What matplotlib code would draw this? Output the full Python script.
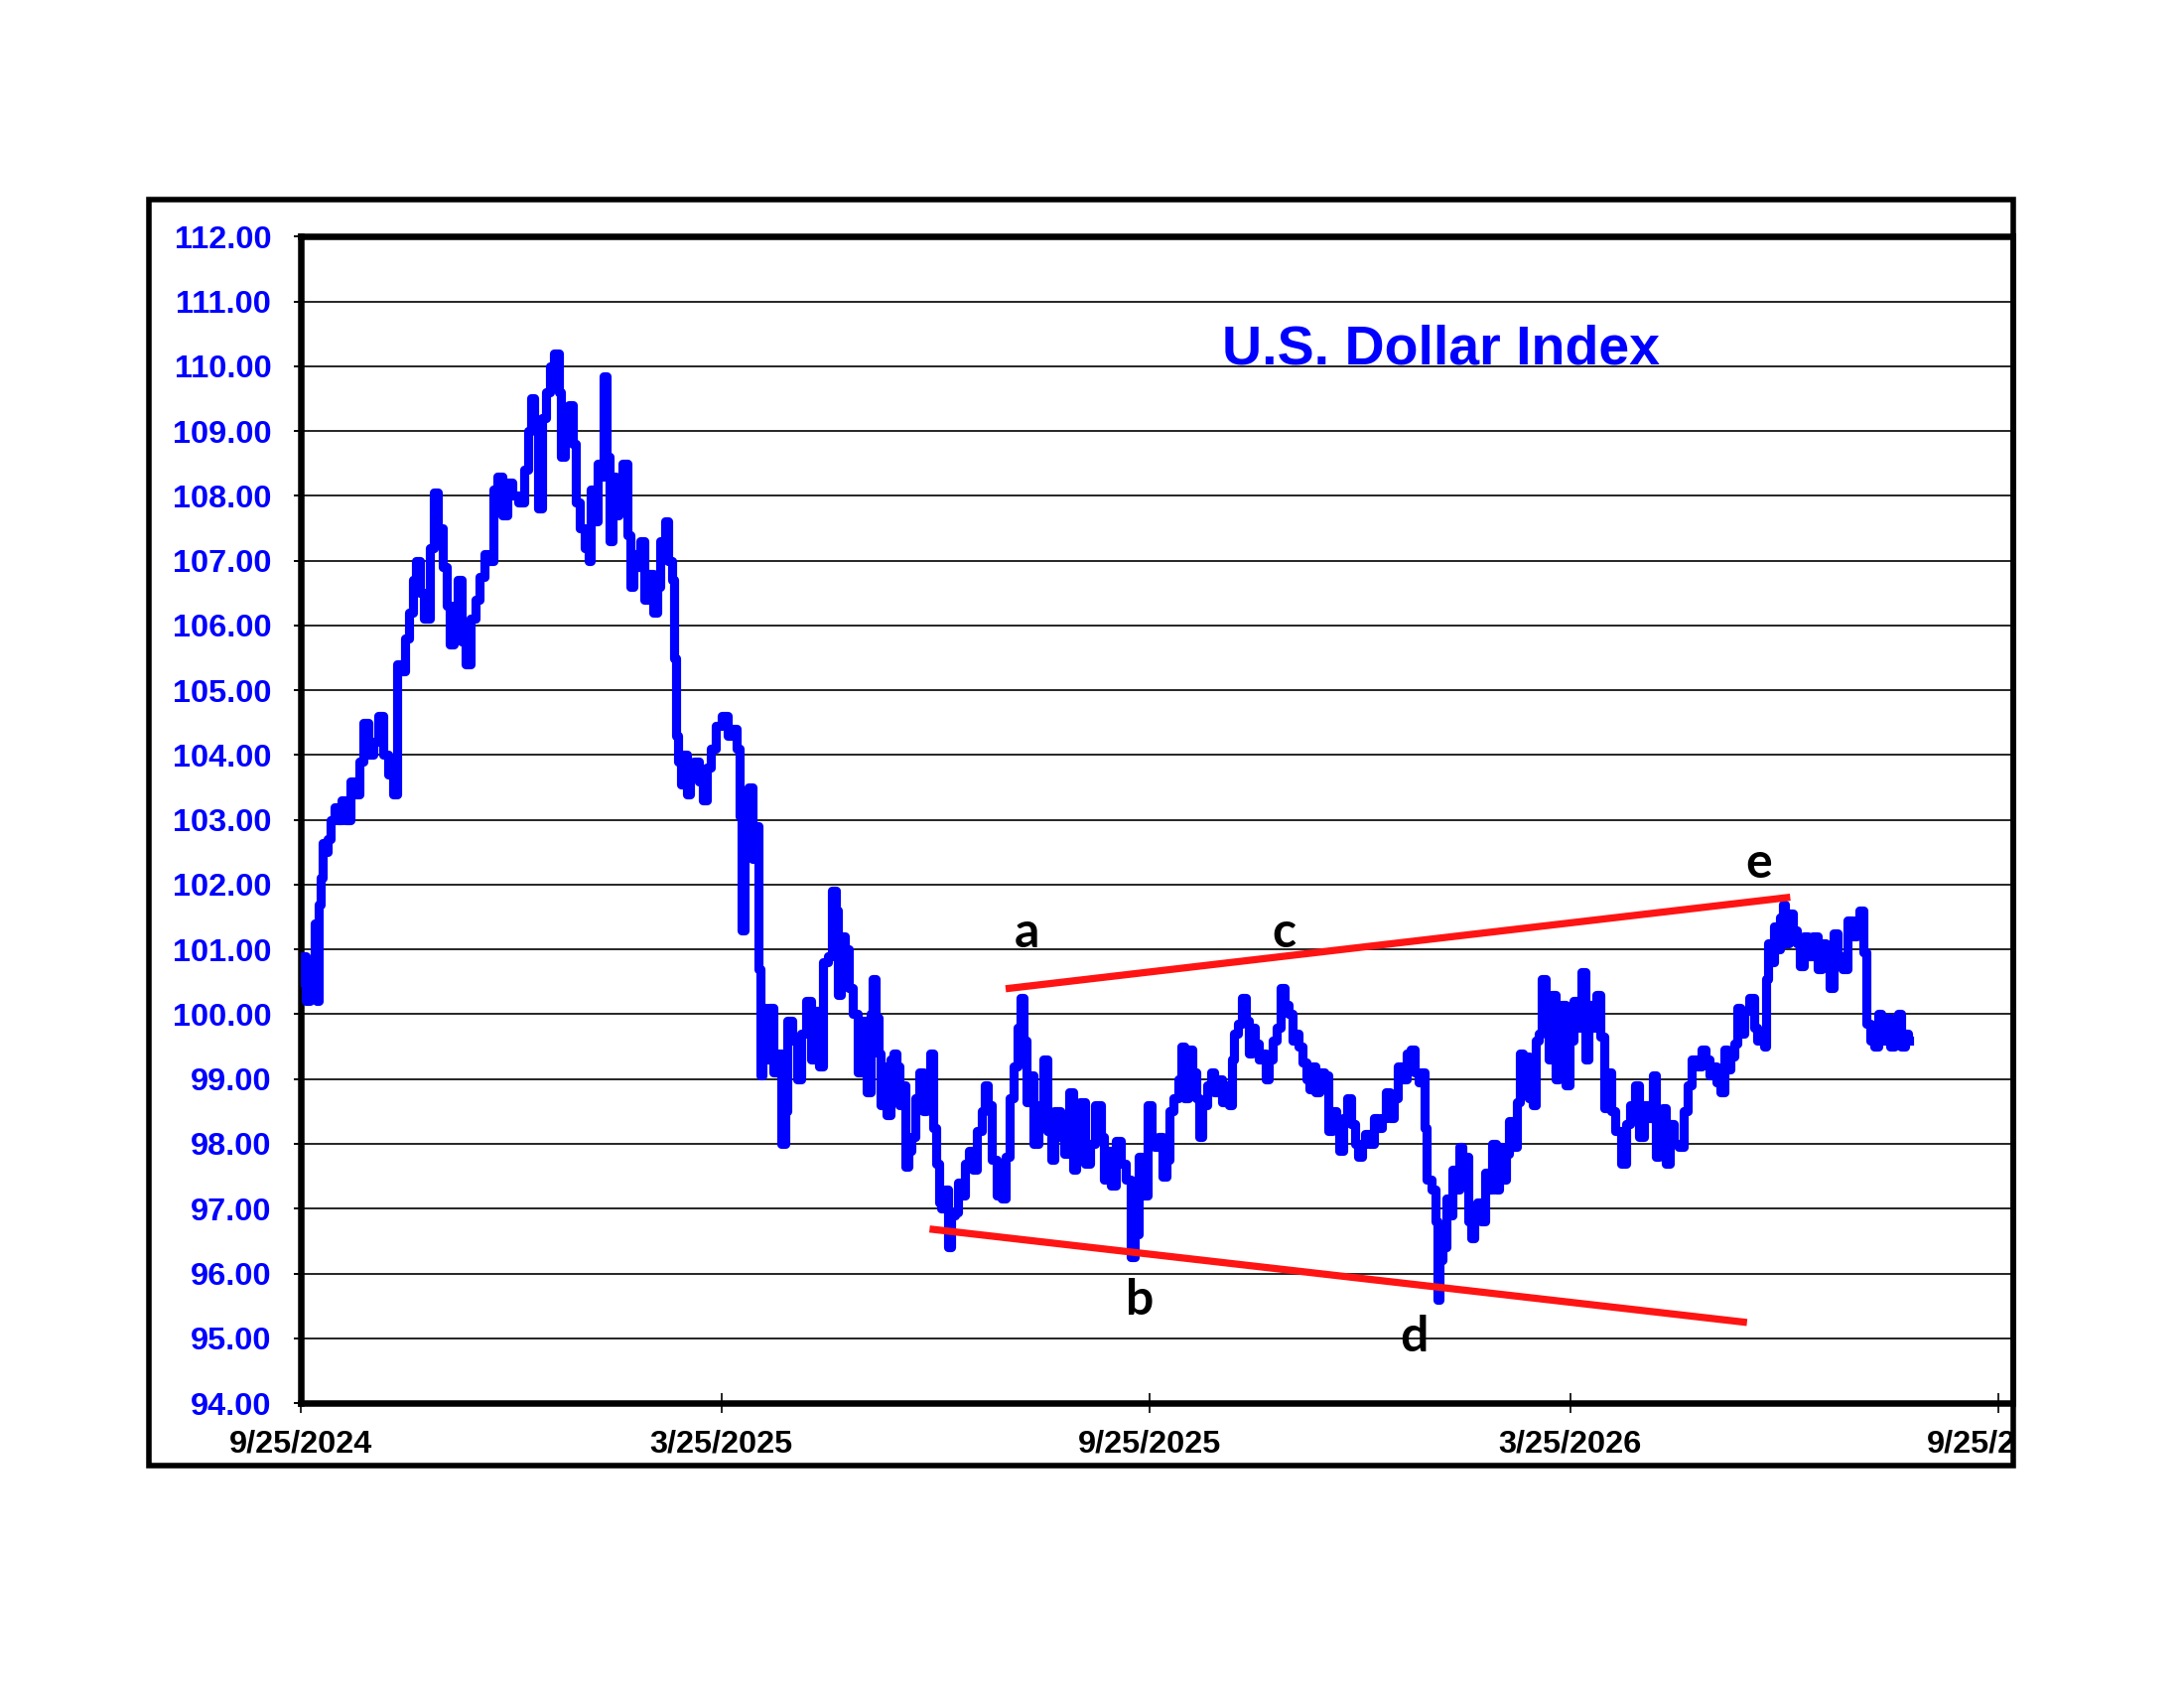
import pandas as pd
import matplotlib.pyplot as plt
from matplotlib.patches import Rectangle

START = pd.Timestamp("2024-09-25")
BLUE = "#0000ff"

# days since 9/25/2024
day_offset = [
    0.3, 1.8, 3.2, 4.6, 5.6, 6.4, 7.4, 8.5, 9.4, 9.9, 11.0, 12.4, 13.8, 15.3, 16.8, 18.9,
    20.3, 22.4, 24.6, 26.0, 28.1, 30.2, 32.4, 34.5, 36.6, 38.7, 40.8, 42.4, 44.5, 45.9,
    48.0, 49.2, 50.2, 52.3, 54.4, 56.6, 58.3, 60.1, 62.0, 63.6, 65.1, 66.8, 68.6, 70.1,
    72.3, 74.4, 76.5, 78.0, 80.0, 82.2, 83.9, 85.7, 87.8, 90.0, 92.1, 95.0, 97.1, 98.6,
    99.5, 101.4, 103.2, 104.6, 106.4, 108.1, 110.3, 111.7, 112.7, 114.6, 116.3, 117.7,
    119.4, 121.2, 123.5,
    124.2, 125.6, 127.0, 128.4, 129.8, 131.3, 132.4, 133.4, 134.8, 136.2, 137.6, 139.8,
    141.2, 142.6, 144.0, 145.4, 147.0, 148.4, 150.5, 152.6, 154.0, 155.8, 157.6, 159.0,
    160.4, 161.1, 161.8, 163.3, 164.0, 165.4, 166.8, 168.2, 170.3, 172.5, 174.0, 175.4,
    177.5, 179.7, 182.5, 184.6, 186.7, 188.2, 189.2, 190.3, 191.7, 193.5, 195.2, 196.7,
    197.4, 198.1, 199.3, 200.7, 202.4, 204.6, 206.0, 207.8, 208.8, 210.2, 212.4, 214.5,
    216.6, 218.7, 220.2, 222.3, 224.0, 225.8, 227.8, 229.5, 230.9, 231.6, 233.1, 235.2,
    236.6, 238.7, 240.8, 242.7, 244.4, 245.8,
    246.5, 247.9, 249.0, 250.0, 251.4, 252.9, 254.3, 255.7, 257.2, 257.9, 259.3, 260.7,
    262.2, 263.6, 265.0, 267.1, 268.6, 270.0, 271.4, 272.8, 274.2, 274.9, 276.4, 277.8,
    279.2, 280.6, 282.0, 283.7, 285.2, 286.4, 288.5, 289.9, 292.0, 293.8, 294.9, 296.3,
    298.4, 300.6, 302.7, 304.1, 306.0, 307.6, 309.0, 310.6, 311.7, 312.7, 314.1, 316.2,
    318.4, 320.5, 322.2, 323.3, 325.5, 327.6, 329.7, 331.8, 333.0, 334.5, 336.2, 338.3,
    340.4, 343.3, 345.0, 346.1, 347.8, 349.6, 351.8, 353.9, 356.0, 358.1, 359.6, 361.0,
    362.9, 365.3,
    366.8, 368.2, 369.6, 371.7, 373.1, 374.5, 376.7, 378.1, 379.5, 380.9, 382.3, 384.5,
    385.9, 387.3, 388.7, 390.8, 392.4, 393.8, 395.2, 397.3, 398.7, 400.2, 400.9, 402.3,
    403.7, 405.8, 407.3, 408.4, 409.8, 411.2, 412.9, 414.3, 415.8, 417.2, 418.9, 420.8,
    422.2, 424.1, 425.8, 427.2, 428.6, 430.0, 431.8, 433.6, 434.3, 435.7, 437.4, 439.3,
    441.4, 442.8, 444.5, 446.0, 447.8, 449.3, 451.1, 452.5, 454.2, 455.6, 457.0, 458.8,
    460.6, 462.4, 464.1, 465.8, 467.7, 469.1, 471.0, 472.7, 474.9, 476.7, 478.4, 480.1,
    481.5, 482.7, 483.8, 484.8,
    487.6, 488.6, 489.4, 490.5, 491.9, 493.3, 494.7, 496.1, 497.6, 499.0, 500.4, 501.9,
    502.8, 504.0, 505.4, 506.9, 508.6, 510.0, 511.8, 513.3, 514.7, 516.1, 517.5, 519.0,
    520.4, 521.8, 524.0, 524.8, 526.2, 527.6, 529.0, 530.8, 531.8, 533.2, 534.6, 536.0,
    537.4, 538.9, 540.3, 541.7, 543.1, 544.5, 546.7, 548.1, 550.2, 551.7, 553.1, 554.5,
    556.0, 558.1, 560.2, 561.2, 563.1, 564.5, 566.6, 569.5, 570.9, 573.0, 575.1, 576.5,
    578.7, 580.9, 582.3, 583.4, 585.1, 586.5, 588.0, 589.4, 591.5, 593.6, 595.7, 597.1,
    599.0, 601.4, 603.5,
    605.0, 606.5, 607.9, 610.0, 611.5, 612.9, 614.3, 615.7, 617.1, 618.6, 620.0, 622.1,
    624.2, 625.7, 627.1, 628.5, 630.0, 630.6, 631.3, 632.8, 634.3, 635.7, 637.1, 637.8,
    639.2, 641.0, 642.8, 644.2, 645.6, 647.0, 649.1, 651.3, 653.4, 654.8, 657.0, 658.4,
    659.9, 662.0, 664.2, 666.3, 668.4, 669.8, 671.3, 672.7, 674.1, 675.9, 677.6, 679.1,
    680.8, 682.6, 684.5, 686.1, 687.6, 689.1, 690.5, 691.9,
]

dxy_close = [
    100.5, 100.9, 100.2, 100.8, 100.3, 101.4, 100.2, 101.7, 102.1, 102.65, 102.5, 102.7,
    103.0, 103.2, 103.0, 103.3, 103.0, 103.6, 103.4, 103.9, 104.5, 104.0, 104.2, 104.6,
    104.0, 103.7, 103.4, 105.4, 105.3, 105.8, 106.2, 106.7, 107.0, 106.5, 106.1, 107.2,
    108.05, 107.5, 106.9, 106.3, 105.7, 106.3, 106.7, 105.75, 105.4, 106.1, 106.4, 106.75,
    107.1, 107.0, 108.1, 108.3, 107.7, 108.2, 108.0, 107.9, 108.4, 109.0, 109.5, 109.1,
    107.8, 109.2, 109.6, 110.0, 110.2, 109.6, 108.6, 109.3, 109.4, 108.8, 107.9, 107.5,
    107.2,
    107.0, 108.1, 107.6, 108.5, 108.3, 109.85, 108.6, 107.3, 108.3, 107.7, 108.0, 108.5,
    107.4, 106.6, 107.1, 106.9, 107.3, 106.4, 106.8, 106.2, 106.6, 107.3, 107.6, 107.0,
    106.7, 105.5, 104.3, 103.9, 103.55, 104.0, 103.4, 103.8, 103.9, 103.6, 103.3, 103.8,
    104.1, 104.45, 104.6, 104.3, 104.4, 104.1, 103.05, 101.3, 102.8, 103.5, 102.4, 102.9,
    100.7, 99.05, 100.1, 99.3, 100.1, 99.1, 99.4, 98.0, 98.5, 99.9, 99.6, 99.0,
    99.7, 100.2, 99.3, 100.05, 99.2, 100.8, 100.9, 101.9, 101.6, 100.3, 101.2, 101.0,
    100.4, 100.0, 99.1, 99.9, 98.8, 100.0,
    100.55, 99.95, 99.4, 98.6, 99.2, 98.45, 99.3, 99.4, 99.2, 98.6, 98.9, 97.65,
    97.9, 98.1, 98.7, 99.1, 98.5, 98.6, 99.4, 98.25, 97.7, 97.1, 97.0, 97.3,
    96.4, 96.9, 96.95, 97.4, 97.2, 97.7, 97.9, 97.6, 98.2, 98.5, 98.9, 98.6,
    97.75, 97.2, 97.15, 97.8, 98.7, 99.2, 99.8, 100.25, 99.6, 98.65, 99.05, 98.0,
    98.6, 99.3, 98.2, 97.75, 98.5, 98.1, 97.85, 98.8, 97.6, 98.3, 98.65, 97.7,
    98.0, 98.6, 98.1, 97.45, 97.9, 97.35, 98.05, 97.7, 97.45, 96.25, 96.6, 97.8,
    97.2, 98.6,
    98.0, 97.95, 98.1, 97.5, 97.75, 98.5, 98.7, 99.0, 99.5, 98.7, 99.45, 99.1,
    98.7, 98.1, 98.6, 98.9, 99.1, 98.8, 99.0, 98.65, 98.9, 98.6, 99.3, 99.7,
    99.85, 100.25, 99.9, 99.4, 99.8, 99.55, 99.3, 99.4, 99.0, 99.3, 99.6, 99.8,
    100.4, 100.15, 100.0, 99.6, 99.7, 99.5, 99.25, 99.0, 98.85, 99.2, 98.8, 99.1,
    99.05, 98.2, 98.5, 98.3, 97.9, 98.4, 98.7, 98.3, 98.0, 97.8, 98.0, 98.15,
    98.0, 98.4, 98.25, 98.4, 98.8, 98.4, 98.7, 99.2, 99.0, 99.4, 99.45, 99.1,
    98.95, 99.1, 98.25, 97.45,
    97.3, 96.8, 95.6, 96.2, 96.4, 97.15, 96.9, 97.6, 97.3, 97.95, 97.5, 97.8,
    96.8, 96.55, 96.9, 97.1, 96.8, 97.55, 97.3, 98.0, 97.3, 97.95, 97.45, 97.85,
    98.35, 97.95, 98.65, 99.4, 98.9, 99.35, 98.7, 98.6, 99.6, 99.7, 100.55, 99.8,
    99.3, 100.3, 99.0, 99.5, 100.15, 98.9, 99.6, 100.2, 99.8, 100.65, 99.3, 100.15,
    99.8, 100.3, 99.65, 98.55, 99.1, 98.5, 98.2, 97.7, 98.3, 98.6, 98.9, 98.1,
    98.6, 98.4, 99.05, 97.8, 98.2, 98.55, 97.7, 98.3, 98.0, 97.95, 98.5, 98.9,
    99.3, 99.2, 99.45,
    99.3, 99.05, 99.2, 98.95, 98.8, 99.45, 99.15, 99.35, 99.55, 100.1, 99.7, 100.05,
    100.25, 99.8, 99.6, 99.7, 99.5, 100.55, 101.1, 100.8, 101.35, 101.0, 101.5, 101.7,
    101.1, 101.55, 101.3, 101.1, 100.75, 101.2, 100.9, 101.2, 100.7, 101.1, 100.8, 100.4,
    101.25, 100.9, 100.7, 101.45, 101.2, 101.45, 101.6, 100.95, 99.85, 99.6, 99.5, 100.0,
    99.6, 99.95, 99.5, 99.7, 100.0, 99.5, 99.7, 99.6,
]

# red trend lines (start/end day, value)
upper_days = [304.8, 639.1]
upper_vals = [100.40, 101.80]
lower_days = [272.1, 620.5]
lower_vals = [96.68, 95.25]

wave_labels = ["a", "b", "c", "d", "e"]
wave_days = [312.6, 361.0, 422.9, 479.0, 627.0]
wave_vals = [101.03, 95.37, 101.03, 94.80, 102.10]

y_ticks = list(range(94, 113))
x_tick_dates = ["2024-09-25", "2025-03-25", "2025-09-25", "2026-03-25", "2026-09-25"]


def to_date(d):
    return START + pd.Timedelta(days=d)


fig = plt.figure(figsize=(11, 8.5), dpi=200)
ax = fig.add_axes([0.1375, 0.1688, 0.7843, 0.6910])

dates = START + pd.to_timedelta(day_offset, unit="D")
ax.plot(dates, dxy_close, color=BLUE, lw=3.3, drawstyle="steps-mid", zorder=3)

ax.plot([to_date(d) for d in upper_days], upper_vals, color="#ff1414", lw=2.6, zorder=4)
ax.plot([to_date(d) for d in lower_days], lower_vals, color="#ff1414", lw=2.6, zorder=4)

for lab, d, v in zip(wave_labels, wave_days, wave_vals):
    ax.text(to_date(d), v, lab, ha="center", va="baseline", fontsize=18,
            fontweight="bold", family="Lato", color="black", zorder=5)

ax.text(0.666, 0.891, "U.S. Dollar Index", transform=ax.transAxes, ha="center",
        va="baseline", fontsize=20, fontweight="bold", family="Liberation Sans",
        color=BLUE)

ax.set_ylim(94, 112)
ax.set_xlim(START, to_date(736.5))

ax.set_yticks(y_ticks)
ax.set_yticklabels([f"{v:.2f}" for v in y_ticks], color=BLUE, fontsize=11.7,
                   fontweight="bold", family="Liberation Sans")
tick_dates = pd.to_datetime(x_tick_dates)
ax.set_xticks(tick_dates)
ax.set_xticklabels([f"{d.month}/{d.day}/{d.year}" for d in tick_dates], color="black",
                   fontsize=11.7, fontweight="bold", family="Liberation Sans")

ax.tick_params(axis="y", direction="out", length=2.5, width=0.7, pad=8)
ax.tick_params(axis="x", direction="inout", length=7.2, width=0.6, pad=6)
ax.yaxis.grid(True, color="black", lw=0.6)
ax.set_axisbelow(True)
for s in ax.spines.values():
    s.set_linewidth(2.35)

# outer chart frame; the right side cuts off the last date label
fig.add_artist(Rectangle((2031 / 2200, 0), 1, 1, transform=fig.transFigure,
                         fc="white", ec="none", zorder=5))
fig.add_artist(Rectangle((150 / 2200, 1 - 1476 / 1700), (2028 - 150) / 2200,
                         (1476 - 201) / 1700, transform=fig.transFigure,
                         fill=False, ec="black", lw=2.0, zorder=6))

fig.savefig("out.png", dpi=200)
